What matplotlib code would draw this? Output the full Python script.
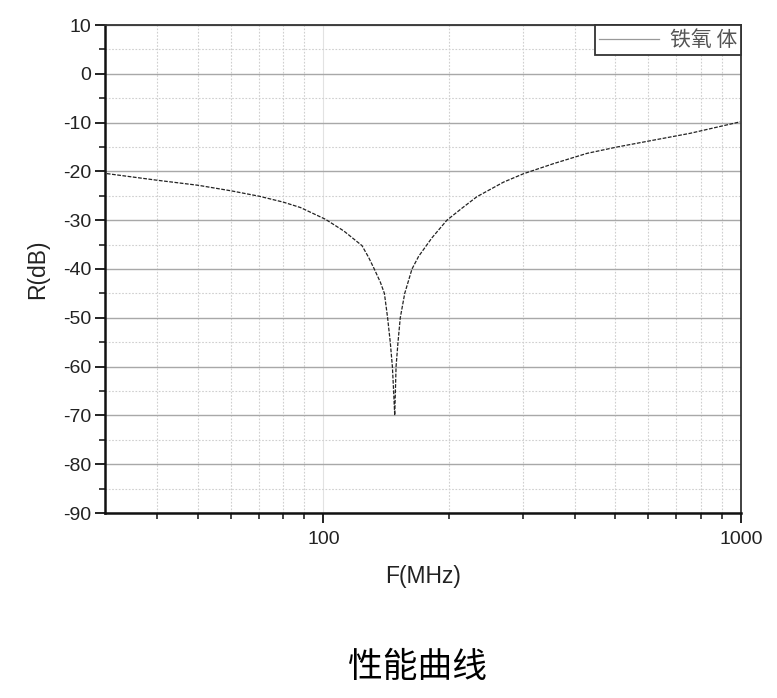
import matplotlib
matplotlib.use("Agg")
import matplotlib.pyplot as plt
from matplotlib.ticker import FixedLocator, NullFormatter, MultipleLocator

plt.rcParams['font.family'] = ['Liberation Sans', 'Noto Sans CJK SC', 'DejaVu Sans']
plt.rcParams['axes.unicode_minus'] = False

# data
freq_mhz = [30.3, 39.9, 50.2, 60.3, 70.3, 80.2, 88.1, 101.1, 111.9, 123.7, 128.3, 132.4,
            136.9, 140, 142.5, 144.6, 146.3, 147.3, 148.2, 149.3, 150.9, 152.8, 156.6,
            163, 169.1, 182, 197.6, 215, 233, 270, 301, 356, 428, 505, 617, 755, 995]
r_db = [-20.45, -21.8, -22.85, -24.0, -25.1, -26.3, -27.4, -29.8, -32.2, -35.2, -37.6, -40.0,
        -42.7, -45.0, -50.0, -55.0, -60.0, -65.0, -70.0, -60.0, -55.0, -50.0, -45.0,
        -40.0, -37.4, -33.6, -30.0, -27.5, -25.2, -22.2, -20.5, -18.4, -16.3, -15.0, -13.6, -12.2, -9.85]
series_label = "铁氧 体"
x_label = "F(MHz)"
y_label = "R(dB)"
title = "性能曲线"
x_major = [100, 1000]
x_major_labels = ["100", "1000"]
x_minor = [40, 50, 60, 70, 80, 90, 200, 300, 400, 500, 600, 700, 800, 900]

W, H = 777, 698
fig = plt.figure(figsize=(W / 100, H / 100), dpi=100)
ax = fig.add_axes([105 / W, 1 - 513 / H, (741 - 105) / W, (513 - 25) / H])

ax.set_xscale('log')
ax.set_xlim(30, 1000)
ax.set_ylim(-90, 10)

ax.plot(freq_mhz, r_db, color='#222222', lw=0.9, dashes=(3, 1.2), label=series_label)

ax.xaxis.set_major_locator(FixedLocator(x_major))
ax.set_xticklabels(x_major_labels)
ax.xaxis.set_minor_locator(FixedLocator(x_minor))
ax.xaxis.set_minor_formatter(NullFormatter())
ax.yaxis.set_major_locator(MultipleLocator(10))
ax.yaxis.set_minor_locator(MultipleLocator(5))

# grid
ax.grid(True, which='major', axis='y', color='#a8a8a8', lw=1.0, ls='-')
ax.grid(True, which='minor', axis='y', color='#cfcfcf', lw=0.8, ls=(0, (1.5, 1.5)))
ax.grid(True, which='minor', axis='x', color='#cfcfcf', lw=0.8, ls=(0, (1.5, 1.5)))
ax.grid(True, which='major', axis='x', color='#e2e2e2', lw=0.8, ls='-')
ax.set_axisbelow(True)

ax.tick_params(axis='both', which='major', direction='out', length=7, width=1.4,
               labelsize=14, colors='#222222', pad=3)
ax.tick_params(axis='both', which='minor', direction='out', length=4, width=1.2, colors='#222222')
ax.tick_params(axis='x', which='major', pad=6)

for side in ['left', 'bottom']:
    ax.spines[side].set_linewidth(1.8)
    ax.spines[side].set_color('#111111')
for side in ['top', 'right']:
    ax.spines[side].set_linewidth(1.3)
    ax.spines[side].set_color('#333333')

ax.set_xlabel(x_label, fontsize=16.5, color='#222222', labelpad=12)
ax.set_ylabel(y_label, fontsize=16.5, color='#222222', labelpad=10)

leg = ax.legend(loc='upper right', borderaxespad=0, fancybox=False, frameon=True,
                prop={'family': ['Noto Sans CJK SC', 'DejaVu Sans'], 'size': 15},
                handlelength=2.9, handletextpad=0.5, borderpad=0.2)
leg.get_frame().set_edgecolor('#333333')
leg.get_frame().set_linewidth(1.3)
leg.get_frame().set_alpha(1)
for t in leg.get_texts():
    t.set_color('#555555')
for l in leg.get_lines():
    l.set_color('#999999')
    l.set_linestyle('-')
    l.set_linewidth(0.9)

fig.text(418 / W, 1 - 668 / H, title, fontsize=25, ha='center', va='center',
         family=['Noto Sans CJK SC', 'DejaVu Sans'], color='black')

fig.savefig('out.png', dpi=100, facecolor='white')
